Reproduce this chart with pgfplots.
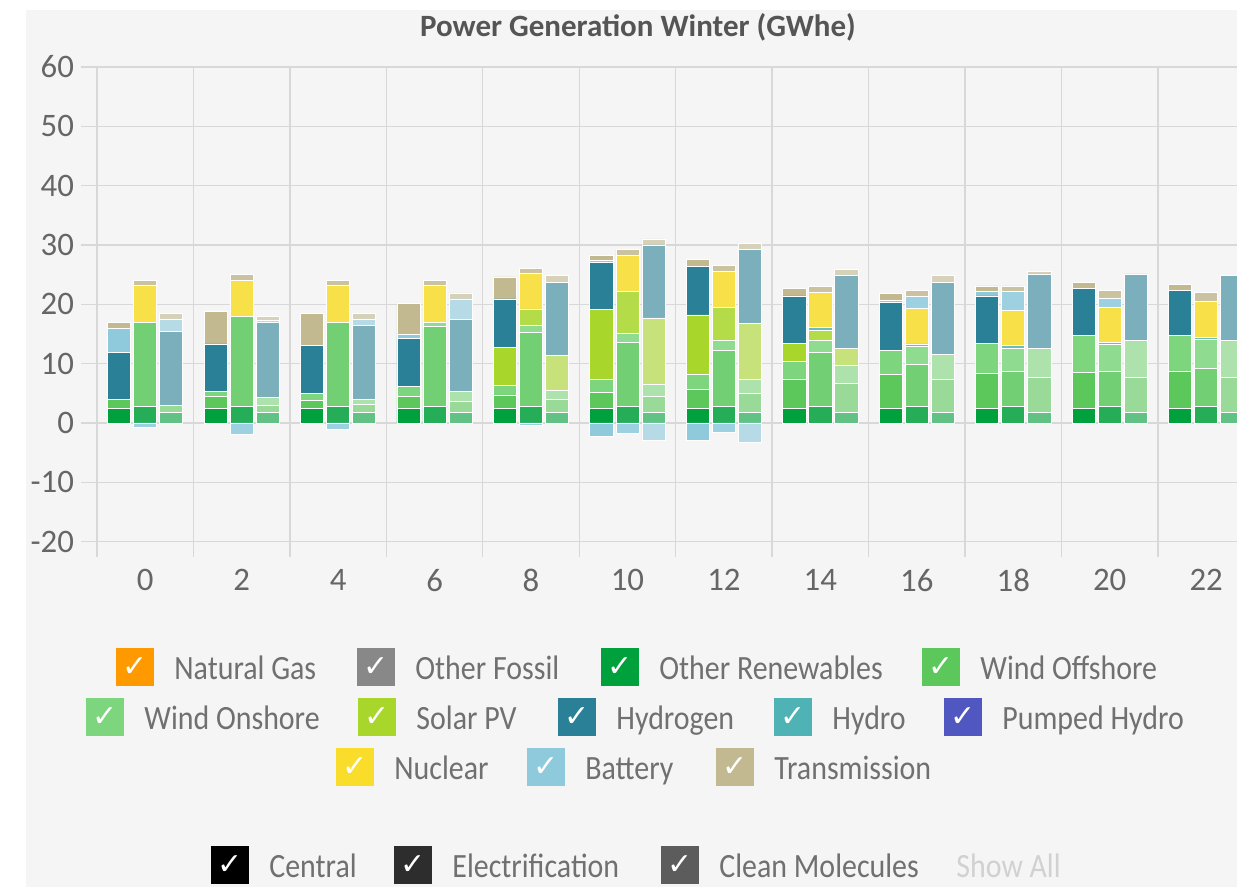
\documentclass[border=0pt]{standalone}
\usepackage{fontspec}
\setmainfont{Carlito}
\newfontfamily\nfont{Carlito}[FakeStretch=0.88]
\newfontfamily\djv{DejaVu Sans}
\usepackage{pgfplots}
\usepackage{pgfplotstable}
\pgfplotsset{compat=1.18}
\definecolor{bgc}{HTML}{F5F5F5}
\definecolor{gridc}{HTML}{D8D8D8}
\definecolor{tickc}{HTML}{666666}
\definecolor{titc}{HTML}{555555}
\definecolor{legc}{HTML}{707070}
\definecolor{natgas}{HTML}{FF9900}
\definecolor{ofos}{HTML}{888888}
\definecolor{orc}{HTML}{00A03C}
\definecolor{woff}{HTML}{5CC85C}
\definecolor{won}{HTML}{7DD67D}
\definecolor{sol}{HTML}{A8D62A}
\definecolor{h2c}{HTML}{2A8096}
\definecolor{hyd}{HTML}{4FB3B5}
\definecolor{phyd}{HTML}{5157C1}
\definecolor{nuc}{HTML}{F9DD2A}
\definecolor{bat}{HTML}{8EC9DC}
\definecolor{trc}{HTML}{C2B991}
\definecolor{sc2}{HTML}{2D2D2D}
\definecolor{sc3}{HTML}{5C5C5C}

% hour, Other Renewables, Wind Offshore, Wind Onshore, Solar PV, Hydrogen, Hydro, Nuclear, Battery, Transmission
\pgfplotstableread{
h  OR   WOff  WOn  Sol  H2   Hyd  Nuc  Bat  Tr
0  2.5  1.4   0    0    8.0  0    0    4.1  1.0
2  2.5  1.9   0.9  0    8.0  0    0    0    5.5
4  2.5  1.3   1.1  0    8.1  0    0    0    5.4
6  2.5  1.9   1.7  0    8.1  0    0    0.8  5.1
8  2.5  2.2   1.6  6.4  8.2  0    0    0    3.7
10 2.5  2.6   2.3  11.7 8.0  0    0    0.3  0.8
12 2.5  3.2   2.5  10.0 8.2  0    0    0    1.1
14 2.5  4.9   2.9  3.1  8.0  0    0    0    1.2
16 2.5  5.6   4.1  0    8.1  0    0    0.4  1.1
18 2.5  5.8   5.1  0    8.0  0    0    0.7  1.0
20 2.5  6.0   6.2  0    8.0  0    0    0    1.0
22 2.5  6.2   6.0  0    7.6  0    0    0    1.0
}\central
\pgfplotstableread{
h  OR   WOff  WOn  Sol  H2   Hyd  Nuc  Bat  Tr
0  2.75 14.25 0    0    0    0    6.15 0    0.85
2  2.75 15.25 0    0    0    0    6.0  0    1.0
4  2.75 14.25 0    0    0    0    6.15 0    0.85
6  2.75 13.45 0.8  0    0    0    6.15 0    0.85
8  2.7  12.5  1.2  2.8  0    0    6.0  0    0.9
10 2.7  10.8  1.6  7.0  0    0    6.1  0    1.0
12 2.7  9.5   1.7  5.6  0    0    6.1  0    0.9
14 2.7  9.2   2.0  1.7  0    0.5  5.9  0    1.0
16 2.7  7.2   3.0  0    0    0.4  6.0  2.0  1.0
18 2.7  6.0   3.9  0    0    0.4  5.9  3.2  1.0
20 2.7  6.0   4.5  0    0    0.4  5.9  1.5  1.3
22 2.7  6.5   4.8  0    0    0.4  6.1  0    1.5
}\elec
\pgfplotstableread{
h  OR   WOff  WOn  Sol  H2   Hyd  Nuc  Bat  Tr
0  1.75 1.25  0    0    12.4 0    0    2.1  0.9
2  1.75 1.25  1.3  0    12.6 0    0    0.3  0.8
4  1.75 1.35  0.9  0    12.4 0    0    1.0  1.0
6  1.75 1.85  1.7  0    12.2 0    0    3.4  1.0
8  1.7  2.3   1.4  5.9  12.4 0    0    0    1.1
10 1.7  2.7   2.1  11.2 12.3 0    0    0    1.0
12 1.7  3.2   2.4  9.5  12.5 0    0    0    0.9
14 1.7  5.0   3.0  2.9  12.2 0    0    0    1.0
16 1.7  5.6   4.2  0    12.2 0    0    0    1.1
18 1.7  6.0   4.9  0    12.5 0    0    0    0.5
20 1.7  6.0   6.2  0    11.2 0    0    0    0
22 1.7  6.0   6.2  0    10.9 0    0    0    0
}\cmol

\pgfplotsset{
  base/.style={at={(48.5pt,-33.5pt)}, anchor=north west, width=570pt, height=237.25pt,
    scale only axis, xmin=-1, xmax=22.64, ymin=-20, ymax=60},
  hid/.style={base, hide axis},
  seg/.style 2 args={fill=#1!#2!bgc, draw=white, line width=0.35pt},
}
\newcommand\stackall[2]{%
  \addplot[seg={orc}{#2}] table[x=h,y=OR]{#1};
  \addplot[seg={woff}{#2}] table[x=h,y=WOff]{#1};
  \addplot[seg={won}{#2}] table[x=h,y=WOn]{#1};
  \addplot[seg={sol}{#2}] table[x=h,y=Sol]{#1};
  \addplot[seg={h2c}{#2}] table[x=h,y=H2]{#1};
  \addplot[seg={hyd}{#2}] table[x=h,y=Hyd]{#1};
  \addplot[seg={nuc}{#2}] table[x=h,y=Nuc]{#1};
  \addplot[seg={bat}{#2}] table[x=h,y=Bat]{#1};
  \addplot[seg={trc}{#2}] table[x=h,y=Tr]{#1};
}
\newcommand\legbox[5]{%
  \fill[#3] ({#1*0.5pt},{-(#2-19)*0.5pt}) rectangle ({(#1+38)*0.5pt},{-(#2+19)*0.5pt});
  \node[text=white, inner sep=0pt, font=\djv\fontsize{15}{15}\selectfont] at ({(#1+19)*0.5pt},{-#2*0.5pt}) {✓};
  \node[anchor=base west, inner sep=0pt, text=#5, font=\nfont\fontsize{17}{17}\selectfont] at ({(#1+58)*0.5pt},{-(#2+12)*0.5pt}) {#4};
}

\begin{document}
\begin{tikzpicture}
\useasboundingbox (0,0) rectangle (618.5pt,-443.5pt);
\fill[white] (0,0) rectangle (618.5pt,-443.5pt);
\fill[bgc] (13pt,-5pt) rectangle (618.5pt,-443.5pt);
\node[anchor=base, inner sep=0pt, font=\bfseries\fontsize{15.5}{16}\selectfont, text=titc] at (319pt,-18.5pt) {Power Generation Winter (GWhe)};

% Central (with grid and ticks)
\begin{axis}[base,
  axis line style={draw=none},
  ytick={-20,-10,...,60},
  xtick={-1,1,...,21}, xticklabels={},
  extra x ticks={0,2,...,22},
  extra x tick labels={0,2,4,6,8,10,12,14,16,18,20,22},
  extra x tick style={grid=none, tick style={draw=none}, xticklabel style={yshift=-2.5pt}},
  grid=major, grid style={gridc, line width=0.65pt},
  tick align=outside, major tick length=8pt, tick pos=left,
  tick style={gridc, line width=0.65pt},
  ticklabel style={font=\fontsize{16.4}{18}\selectfont, text=tickc},
  /pgf/number format/assume math mode=true,
  ybar stacked, bar width=0.48, bar shift=-0.54]
\stackall{\central}{100}
\end{axis}

% Electrification
\begin{axis}[hid, ybar stacked, bar width=0.48, bar shift=0]
\stackall{\elec}{85}
\end{axis}

% Clean Molecules
\begin{axis}[hid, ybar stacked, bar width=0.48, bar shift=0.54]
\stackall{\cmol}{60}
\end{axis}

% negative battery (charging)
\begin{axis}[hid, ybar, bar width=0.48]
\addplot[seg={bat}{100}, bar shift=-0.54] coordinates {(10,-2.2) (12,-2.9)};
\addplot[seg={bat}{85}, bar shift=0] coordinates {(0,-0.7) (2,-2.0) (4,-1.1) (8,-0.5) (10,-1.8) (12,-1.6)};
\addplot[seg={bat}{60}, bar shift=0.54] coordinates {(10,-2.9) (12,-3.3)};
\end{axis}

% legend
\legbox{116}{667}{natgas}{Natural Gas}{legc}
\legbox{357}{667}{ofos}{Other Fossil}{legc}
\legbox{601}{667}{orc}{Other Renewables}{legc}
\legbox{922}{667}{woff}{Wind Offshore}{legc}
\legbox{86}{717}{won}{Wind Onshore}{legc}
\legbox{358}{717}{sol}{Solar PV}{legc}
\legbox{558}{717}{h2c}{Hydrogen}{legc}
\legbox{774}{717}{hyd}{Hydro}{legc}
\legbox{944}{717}{phyd}{Pumped Hydro}{legc}
\legbox{336}{767}{nuc}{Nuclear}{legc}
\legbox{527}{767}{bat}{Battery}{legc}
\legbox{716}{767}{trc}{Transmission}{legc}

\legbox{211}{865}{black}{Central}{legc}
\legbox{394}{865}{sc2}{Electrification}{legc}
\legbox{661}{865}{sc3}{Clean Molecules}{legc}
\node[anchor=base west, inner sep=0pt, text=black!18, font=\nfont\fontsize{17}{17}\selectfont] at (478pt,-438.5pt) {Show All};
\end{tikzpicture}
\end{document}
